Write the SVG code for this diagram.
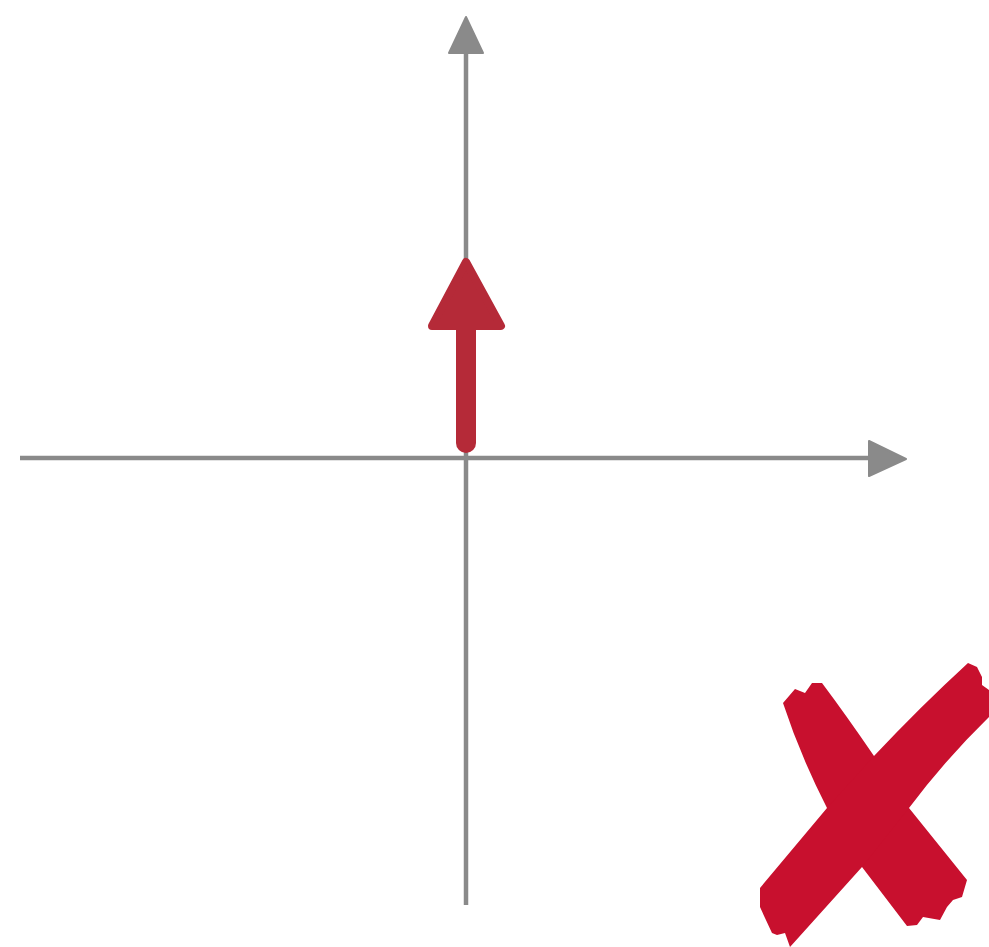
<svg xmlns="http://www.w3.org/2000/svg" width="989" height="947" viewBox="0 0 989 947">
<style>
.axis{stroke:#8a8a8a;stroke-width:4.5;fill:none}
.axhead{fill:#8a8a8a;stroke:#8a8a8a;stroke-width:2;stroke-linejoin:round}
.vec{fill:#b52a38;stroke:#b52a38;stroke-linejoin:round}
.cross{fill:#c8102e}
</style>
<rect width="989" height="947" fill="#ffffff"/>
<g id="axes">
<line class="axis" x1="20" y1="458" x2="872" y2="458"/>
<polygon class="axhead" points="869,441 906,459 869,476"/>
<line class="axis" x1="466" y1="905" x2="466" y2="50"/>
<polygon class="axhead" points="449,53 466,17 483,53"/>
</g>
<g id="vector">
<line x1="466" y1="443" x2="466" y2="325" stroke="#b52a38" stroke-width="20" stroke-linecap="round"/>
<polygon class="vec" stroke-width="8" points="432,326 466,262 501,326"/>
</g>
<g id="cross">
<path class="cross" d="M783,703 L795,689 L805,693 L812,683 L822,683 Q846,715 874,756 L909,808 L967,880 L962,897 L953,900 L947,907 L940,920 L923,917 L917,925 L907,926 L862,867 L827,808 Q800,755 783,703 Z"/>
<path class="cross" d="M968,663 L977,667 L982,677 L982,685 L989,690 L989,717 Q945,760 909,808 L862,867 L790,947 L785,933 L777,935 L772,933 L765,918 L760,907 L760,888 L827,808 L874,756 Q920,707 968,663 Z"/>
</g>
</svg>
